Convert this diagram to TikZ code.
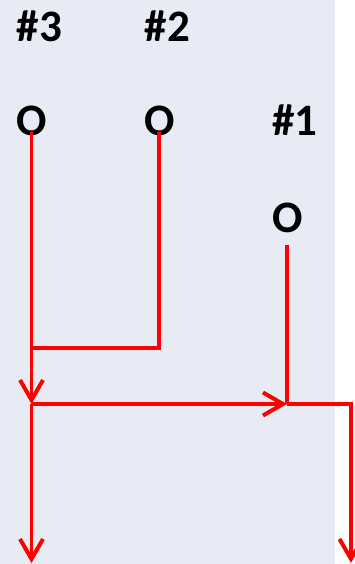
\documentclass[tikz,border=0pt]{standalone}
\usepackage{fontspec}
\setmainfont{Carlito}
\usetikzlibrary{arrows.meta}
\definecolor{panel}{HTML}{E8EBF4}
\definecolor{flowred}{HTML}{FF0000}
\begin{document}
\begin{tikzpicture}[x=1pt,y=-1pt,
  lbl/.style={font=\bfseries\fontsize{45}{45}\selectfont, inner sep=0pt, anchor=base},
  flow/.style={draw=flowred, line width=3.2pt},
  barb/.style={-{Straight Barb[length=20pt,width=23pt,line width=4pt]}}]
  \useasboundingbox (0,0) rectangle (354,564);
  \fill[panel] (0,0) rectangle (335,564);

  % labels and sources
  \node[lbl] (h3) at (39.5,42) {\#3};
  \node[lbl] (h2) at (167.5,42) {\#2};
  \node[lbl] (h1) at (295,136) {\#1};
  \node[lbl] (o3) at (32,136) {O};
  \node[lbl] (o2) at (160,136) {O};
  \node[lbl] (o1) at (288,232) {O};

  % junction points
  \coordinate (s3) at (31.5,132);
  \coordinate (s2) at (159,132);
  \coordinate (s1) at (287,245);
  \coordinate (m2) at (31.5,348);
  \coordinate (j3) at (31.5,404);
  \coordinate (j1) at (287,404);
  \coordinate (e3) at (31.5,563);
  \coordinate (e1) at (351,563);

  % flows
  \draw[flow] (s2) |- (m2);
  \draw[flow,barb] (s3) -- (j3);
  \draw[flow,barb] (j3) -- (e3);
  \draw[flow,barb] (j3) -- (j1);
  \draw[flow] (s1) -- (j1);
  \draw[flow,barb] (j1) -| (e1);
\end{tikzpicture}
\end{document}
